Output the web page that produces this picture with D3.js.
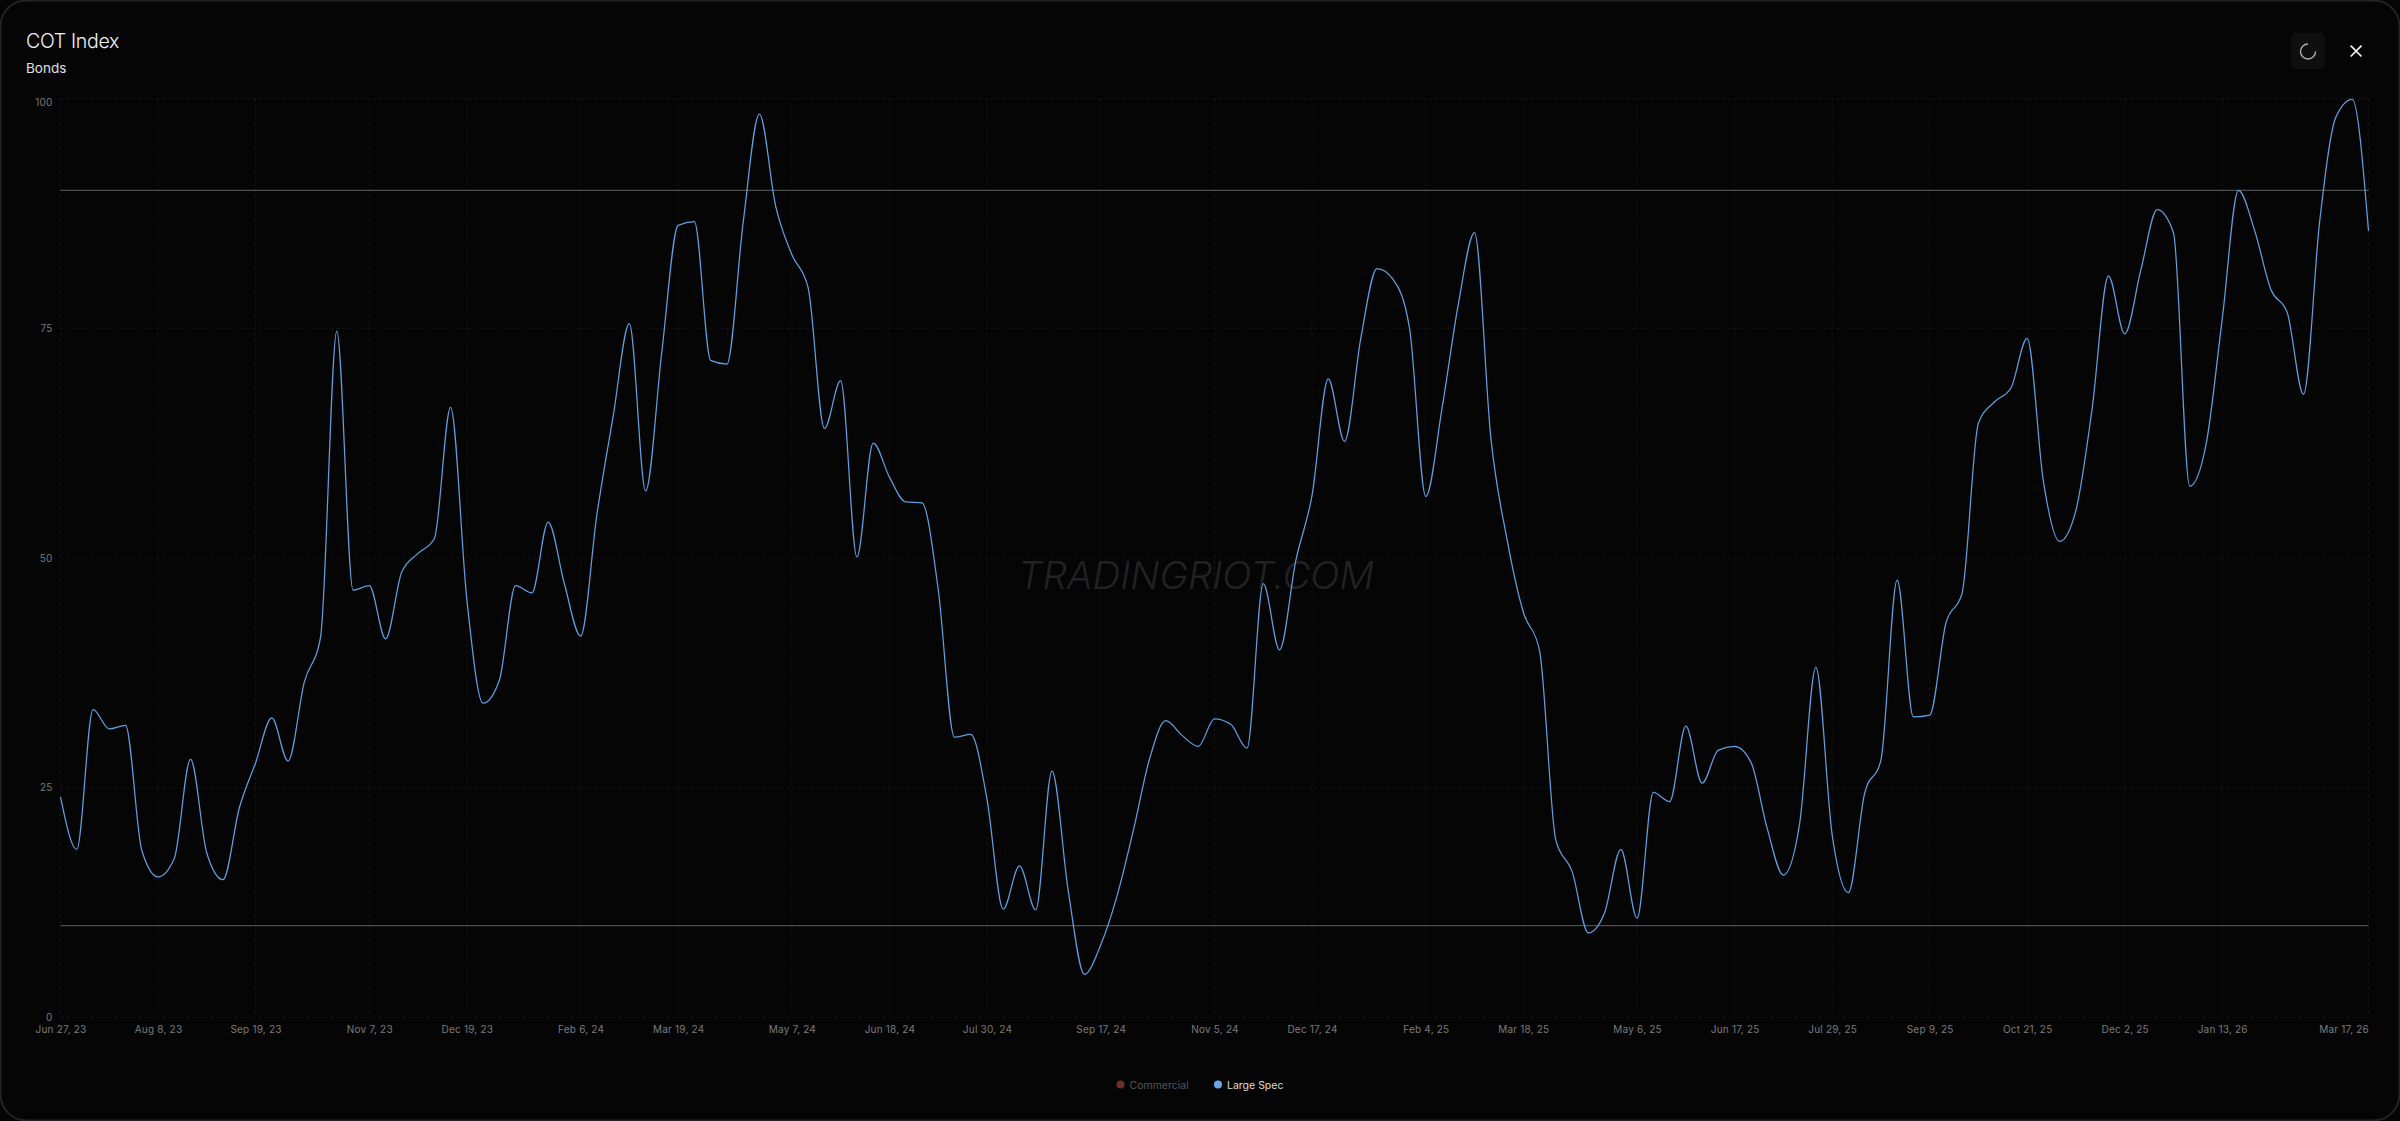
<!DOCTYPE html>
<html lang="en">
<head>
<meta charset="utf-8">
<title>COT Index - Bonds</title>
<script src="https://d3js.org/d3.v7.min.js"></script>
<style>
    html, body { margin: 0; background: #050506; overflow: hidden; }
    svg { display: block; }
    text { font-family: Inter, "Noto Sans", sans-serif; }
    .axis text { fill: #7a7a7a; font-size: 10px; letter-spacing: 0.2px; }
    .axis path, .axis line { display: none; }
    .grid line { stroke: #17171a; stroke-dasharray: 3 3; }
</style>
</head>
<body>
<script>
// weekly readings, first one is Jun 27 2023
const firstWeek = "2023-06-27";
const largeSpec = [
    24.0, 18.3, 33.5, 31.4, 31.8, 18.2, 15.3, 17.3, 28.1, 17.9,
    15.0, 22.8, 27.7, 32.6, 27.9, 36.5, 41.4, 74.7, 46.5, 47.0,
    41.2, 48.5, 50.5, 52.1, 66.4, 45.5, 34.2, 36.7, 47.0, 46.2,
    53.9, 47.2, 41.5, 54.7, 65.4, 75.5, 57.3, 72.5, 86.2, 86.6,
    71.5, 71.1, 86.5, 98.3, 88.3, 83.0, 79.4, 64.1, 69.3, 50.1,
    62.5, 58.8, 56.1, 56.0, 46.6, 30.5, 30.8, 23.8, 11.8, 16.5,
    11.7, 26.8, 13.8, 4.7, 7.9, 13.2, 20.3, 28.1, 32.3, 30.7,
    29.5, 32.5, 31.9, 29.3, 47.2, 40.0, 49.7, 56.8, 69.5, 62.7,
    73.9, 81.5, 80.3, 75.0, 56.7, 66.3, 77.6, 85.4, 63.1, 52.0,
    44.1, 39.9, 19.3, 15.9, 9.2, 11.4, 18.3, 10.8, 24.5, 23.5,
    31.7, 25.5, 29.1, 29.5, 27.8, 20.6, 15.5, 21.1, 38.1, 19.9,
    13.6, 24.4, 28.0, 47.6, 32.7, 32.9, 42.9, 46.2, 64.7, 67.0,
    68.5, 73.9, 58.3, 51.8, 55.2, 66.3, 80.7, 74.4, 81.4, 87.9,
    85.4, 57.8, 62.3, 76.0, 90.0, 85.6, 79.2, 76.7, 67.8, 86.7,
    98.0, 99.9, 85.6
];
const xTicks = [
    "2023-06-27", "2023-08-08", "2023-09-19", "2023-11-07", "2023-12-19",
    "2024-02-06", "2024-03-19", "2024-05-07", "2024-06-18", "2024-07-30",
    "2024-09-17", "2024-11-05", "2024-12-17", "2025-02-04", "2025-03-18",
    "2025-05-06", "2025-06-17", "2025-07-29", "2025-09-09", "2025-10-21",
    "2025-12-02", "2026-01-13", "2026-03-17"
];
const yTicks = [0, 25, 50, 75, 100];
const refLines = [10, 90];
const legendNames = ["Commercial", "Large Spec"];
const legendDots = ["#6e2e30", "#6aa6e2"];
const legendText = ["#555558", "#dcdcdc"];

const w = 2400, h = 1121;
const margin = {top: 98.5, right: 31.5, bottom: 103.5, left: 60.5};

const parse = d3.utcParse("%Y-%m-%d");
const start = parse(firstWeek);
const weeks = largeSpec.map((d, i) => d3.utcDay.offset(start, i * 7));

const x = d3.scaleUtc()
    .domain(d3.extent(weeks))
    .range([margin.left, w - margin.right]);
const y = d3.scaleLinear()
    .domain([0, 100])
    .range([h - margin.bottom, margin.top]);

const svg = d3.select("body").append("svg")
    .attr("width", w)
    .attr("height", h);

// card
svg.append("rect")
    .attr("x", 0.5).attr("y", 0.5)
    .attr("width", w - 1).attr("height", h - 1)
    .attr("rx", 26)
    .attr("fill", "#050506")
    .attr("stroke", "#232325")
    .attr("stroke-width", 2);

svg.append("text").attr("x", 26).attr("y", 48)
    .attr("fill", "#f2f2f2").attr("font-size", 19.5).attr("font-weight", 300)
    .attr("letter-spacing", -0.3)
    .text("COT Index");
svg.append("text").attr("x", 26).attr("y", 72.5)
    .attr("fill", "#e0e0e0").attr("font-size", 13.5)
    .text("Bonds");

// refresh button + close
svg.append("rect")
    .attr("x", 2291).attr("y", 33).attr("width", 34).attr("height", 36).attr("rx", 5)
    .attr("fill", "#0f0f10");
svg.append("path")
    .attr("transform", "translate(2308,51.5)")
    .attr("d", d3.arc().innerRadius(6.8).outerRadius(8.2)
        .startAngle(Math.PI * 0.5).endAngle(Math.PI * 2)())
    .attr("fill", "#b0b0b0");
svg.append("path")
    .attr("d", "M2350.7 45.7L2361.5 56.5M2361.5 45.7L2350.7 56.5")
    .attr("stroke", "#f2f2f2").attr("stroke-width", 1.7).attr("fill", "none");

// grid
const grid = svg.append("g").attr("class", "grid");
grid.selectAll(".h").data(yTicks).enter().append("line")
    .attr("x1", x.range()[0]).attr("x2", x.range()[1])
    .attr("y1", d => y(d)).attr("y2", d => y(d));
grid.selectAll(".v").data(xTicks).enter().append("line")
    .attr("x1", d => x(parse(d))).attr("x2", d => x(parse(d)))
    .attr("y1", y.range()[1]).attr("y2", y.range()[0]);

// watermark
svg.append("text")
    .attr("x", 1196).attr("y", 589)
    .attr("text-anchor", "middle")
    .attr("fill", "#222223")
    .attr("font-size", 38.4).attr("font-style", "italic").attr("font-weight", 300)
    .text("TRADINGRIOT.COM");

// reference lines
svg.selectAll(".ref").data(refLines).enter().append("line")
    .attr("x1", x.range()[0]).attr("x2", x.range()[1])
    .attr("y1", d => y(d)).attr("y2", d => y(d))
    .attr("stroke", "#4e4e50").attr("stroke-width", 1.2);

const line = d3.line()
    .x((d, i) => x(weeks[i]))
    .y(d => y(d))
    .curve(d3.curveMonotoneX);

svg.append("path")
    .datum(largeSpec)
    .attr("d", line)
    .attr("fill", "none")
    .attr("stroke", "#5f9fdf")
    .attr("stroke-width", 1.25);

// axes
const fmt = d3.utcFormat("%b %-d, %y");
const xAxis = svg.append("g")
    .attr("class", "axis")
    .attr("transform", "translate(0," + (h - margin.bottom) + ")")
    .call(d3.axisBottom(x).tickValues(xTicks.map(parse)).tickFormat(fmt).tickSize(0).tickPadding(7));
xAxis.selectAll("text").attr("y", 8);
xAxis.selectAll(".tick:last-of-type text").attr("text-anchor", "end");

const yAxis = svg.append("g")
    .attr("class", "axis")
    .attr("transform", "translate(" + margin.left + ",0)")
    .call(d3.axisLeft(y).tickValues(yTicks).tickSize(0).tickPadding(8));
// the top label sits just under its gridline
yAxis.selectAll(".tick:last-of-type text").attr("dy", "0.72em");

// legend
const legendX = [1120.5, 1218];
const legend = svg.selectAll(".legend").data(legendNames).enter().append("g")
    .attr("transform", (d, i) => "translate(" + legendX[i] + ",1084.5)");
legend.append("circle").attr("r", 4).attr("fill", (d, i) => legendDots[i]);
legend.append("text")
    .attr("x", 9).attr("y", 4)
    .attr("font-size", 10.5).attr("font-weight", 400)
    .attr("fill", (d, i) => legendText[i])
    .text(d => d);
</script>
</body>
</html>
